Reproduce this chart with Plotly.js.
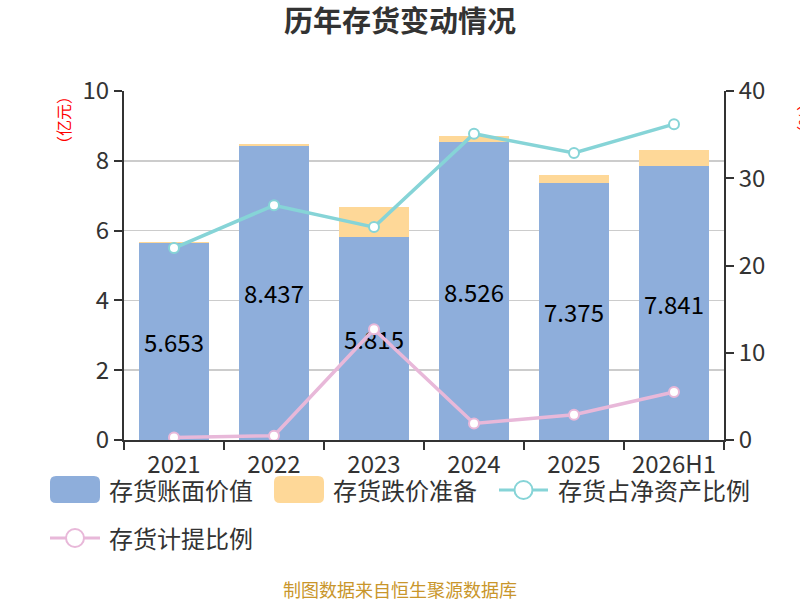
<!DOCTYPE html>
<html>
<head>
<meta charset="utf-8">
<script src="https://cdn.plot.ly/plotly-3.0.1.min.js"></script>
<style>
  html, body { margin: 0; padding: 0; background: #fff; }
  #chart { width: 800px; height: 600px; }
</style>
</head>
<body>
<div id="chart"></div>
<script>
const years = ['2021', '2022', '2023', '2024', '2025', '2026H1'];
const bookValue = [5.653, 8.437, 5.815, 8.526, 7.375, 7.841];     // 亿元
const impairment = [0.03, 0.05, 0.85, 0.18, 0.23, 0.47];         // 亿元
const shareOfNetAssets = [22.0, 26.9, 24.4, 35.1, 32.9, 36.2];   // %
const provisionRatio = [0.3, 0.5, 12.7, 1.9, 2.9, 5.5];          // %

const BLUE = '#8eaedb';
const ORANGE = '#fed898';
const TEAL = '#86d4d7';
const PINK = '#e8b8d9';
const FONT = '"Noto Sans CJK SC", "Noto Sans", sans-serif';

// plot area is 124..724 x 91..440 px, helpers turn pixels into paper coords
const px = x => (x - 124) / 600;
const py = y => (440 - y) / 349;

function roundRect(x0, y0, x1, y1, r) {
    const a = [px(x0), px(x0 + r), px(x1 - r), px(x1)];
    const b = [py(y0), py(y0 + r), py(y1 - r), py(y1)];
    return 'M' + a[1] + ',' + b[0] + ' L' + a[2] + ',' + b[0] +
        ' Q' + a[3] + ',' + b[0] + ' ' + a[3] + ',' + b[1] +
        ' L' + a[3] + ',' + b[2] +
        ' Q' + a[3] + ',' + b[3] + ' ' + a[2] + ',' + b[3] +
        ' L' + a[1] + ',' + b[3] +
        ' Q' + a[0] + ',' + b[3] + ' ' + a[0] + ',' + b[2] +
        ' L' + a[0] + ',' + b[1] +
        ' Q' + a[0] + ',' + b[0] + ' ' + a[1] + ',' + b[0] + ' Z';
}

function legendLine(x0, x1, cy, color) {
    const cx = (x0 + x1) / 2, r = 9;
    return [
        { type: 'line', xref: 'paper', yref: 'paper', x0: px(x0), x1: px(x1), y0: py(cy), y1: py(cy),
          line: { color: color, width: 3 } },
        { type: 'circle', xref: 'paper', yref: 'paper', x0: px(cx - r), x1: px(cx + r), y0: py(cy + r), y1: py(cy - r),
          fillcolor: '#fff', line: { color: color, width: 2 } }
    ];
}

function legendText(x, y, text) {
    return { xref: 'paper', yref: 'paper', x: px(x), y: py(y), xanchor: 'left', yanchor: 'middle',
             text: text, showarrow: false, font: { size: 24, color: '#333', family: FONT } };
}

const traces = [
    {
        type: 'bar', name: '存货账面价值', x: years, y: bookValue,
        marker: { color: BLUE },
        text: bookValue.map(v => v.toFixed(3)),
        textposition: 'inside', insidetextanchor: 'middle', constraintext: 'none',
        textfont: { size: 24, color: '#000', family: FONT },
        hoverinfo: 'skip'
    },
    {
        type: 'bar', name: '存货跌价准备', x: years, y: impairment,
        marker: { color: ORANGE }, textposition: 'none', hoverinfo: 'skip'
    },
    {
        type: 'scatter', mode: 'lines+markers', name: '存货占净资产比例', x: years, y: shareOfNetAssets,
        yaxis: 'y2', line: { color: TEAL, width: 3.5 },
        marker: { symbol: 'circle', size: 10, color: '#fff', line: { color: TEAL, width: 2 } },
        hoverinfo: 'skip'
    },
    {
        type: 'scatter', mode: 'lines+markers', name: '存货计提比例', x: years, y: provisionRatio,
        yaxis: 'y2', line: { color: PINK, width: 3.5 },
        marker: { symbol: 'circle', size: 10, color: '#fff', line: { color: PINK, width: 2 } },
        hoverinfo: 'skip'
    }
];

const axisStyle = {
    showline: true, linecolor: '#333', linewidth: 2,
    ticks: 'outside', ticklen: 8, tickwidth: 2, tickcolor: '#333',
    tickfont: { size: 24, color: '#333', family: FONT },
    zeroline: false
};

const layout = {
    width: 800, height: 600,
    paper_bgcolor: '#fff', plot_bgcolor: '#fff',
    margin: { l: 124, r: 76, t: 91, b: 160 },
    font: { family: FONT, color: '#333' },
    showlegend: false,
    barmode: 'stack', bargap: 0.3,
    title: {
        text: '历年存货变动情况', xref: 'container', x: 0.5, y: 1 - 22 / 600, yanchor: 'middle',
        font: { size: 29, color: '#333', weight: 'bold', family: FONT }
    },
    xaxis: Object.assign({}, axisStyle, { type: 'category', tickson: 'boundaries', showgrid: false,
        ticklabelstandoff: 2 }),
    yaxis: Object.assign({}, axisStyle, {
        range: [0, 10], tick0: 0, dtick: 2, showgrid: true, gridcolor: '#cccccc', gridwidth: 1.5
    }),
    yaxis2: Object.assign({}, axisStyle, {
        overlaying: 'y', side: 'right', range: [0, 40], tick0: 0, dtick: 10, showgrid: false
    }),
    shapes: [
        { type: 'path', xref: 'paper', yref: 'paper', path: roundRect(50, 476, 100, 503, 6),
          fillcolor: BLUE, line: { width: 0 } },
        { type: 'path', xref: 'paper', yref: 'paper', path: roundRect(274, 476, 324, 503, 6),
          fillcolor: ORANGE, line: { width: 0 } }
    ].concat(legendLine(499, 548, 490, TEAL), legendLine(50, 100, 538, PINK)),
    annotations: [
        legendText(107, 489, '存货账面价值'),
        legendText(331, 489, '存货跌价准备'),
        legendText(556, 489, '存货占净资产比例'),
        legendText(107, 537, '存货计提比例'),
        { xref: 'paper', yref: 'paper', x: px(63), y: py(120), text: '（亿元）', textangle: -90,
          showarrow: false, xanchor: 'center', yanchor: 'middle', font: { size: 16, color: '#ff0000', family: FONT } },
        { xref: 'paper', yref: 'paper', x: px(806), y: py(118), text: '（%）', textangle: 90,
          showarrow: false, xanchor: 'center', yanchor: 'middle', font: { size: 16, color: '#ff0000', family: FONT } },
        { xref: 'paper', yref: 'paper', x: px(400), y: py(589), text: '制图数据来自恒生聚源数据库',
          showarrow: false, xanchor: 'center', yanchor: 'middle', font: { size: 18, color: '#c9962b', family: FONT } }
    ]
};

Plotly.newPlot('chart', traces, layout, { displayModeBar: false, staticPlot: true });
</script>
</body>
</html>
